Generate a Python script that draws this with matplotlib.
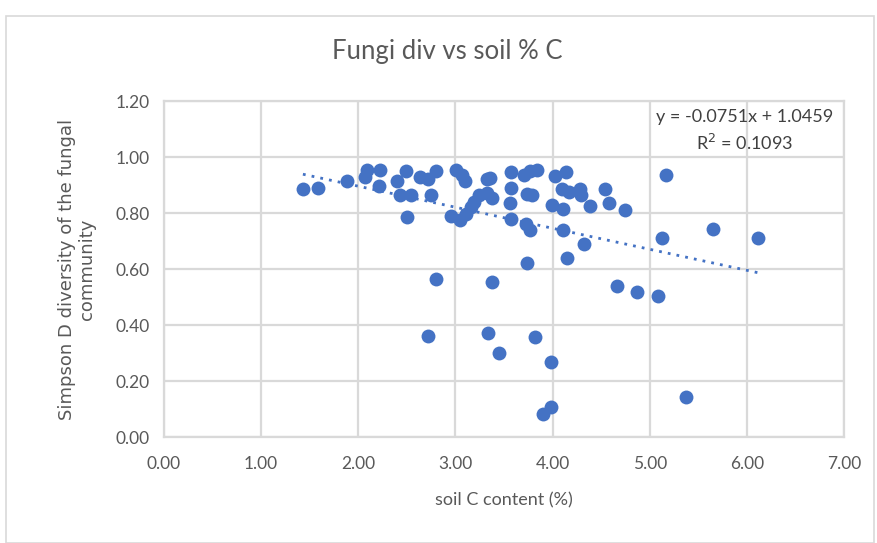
import numpy as np
import matplotlib.pyplot as plt
from matplotlib.patches import Rectangle

# soil C content (%) and Simpson D diversity
soil_c = [1.43, 1.59, 1.88, 2.09, 2.22, 2.07, 2.21, 2.40, 2.49, 2.43,
          2.54, 2.50, 2.64, 2.72, 2.80, 2.75, 2.80, 2.72, 3.01, 3.07,
          3.10, 2.95, 3.05, 3.11, 3.16, 3.19, 3.24, 3.33, 3.36, 3.32,
          3.38, 3.34, 3.38, 3.45, 3.57, 3.57, 3.56, 3.57, 3.71, 3.77,
          3.84, 3.74, 3.79, 3.73, 3.77, 3.74, 3.82, 3.98, 3.90, 3.98,
          4.03, 4.14, 4.10, 4.17, 4.28, 4.29, 3.99, 4.11, 4.39, 4.54,
          4.58, 4.75, 4.11, 4.32, 4.15, 4.66, 4.87, 5.09, 5.13, 5.17,
          5.65, 6.11, 5.37]
simpson_d = [0.886, 0.889, 0.915, 0.952, 0.952, 0.930, 0.896, 0.915, 0.950, 0.863,
             0.863, 0.787, 0.927, 0.921, 0.950, 0.863, 0.564, 0.361, 0.952, 0.934,
             0.915, 0.790, 0.776, 0.797, 0.822, 0.840, 0.865, 0.921, 0.925, 0.871,
             0.853, 0.371, 0.554, 0.299, 0.946, 0.890, 0.834, 0.778, 0.934, 0.950,
             0.955, 0.868, 0.863, 0.759, 0.741, 0.622, 0.358, 0.268, 0.081, 0.106,
             0.931, 0.946, 0.886, 0.875, 0.884, 0.865, 0.828, 0.815, 0.824, 0.884,
             0.837, 0.812, 0.738, 0.691, 0.641, 0.538, 0.517, 0.502, 0.712, 0.936,
             0.743, 0.710, 0.143]

# linear trendline as reported on the chart
slope, intercept, r2 = -0.0751, 1.0459, 0.1093

blue = '#4472C4'
grey_txt = '#595959'
grid_c = '#d9d9d9'

fig = plt.figure(figsize=(8.77, 5.43), dpi=100)
ax = fig.add_axes([164/877, 1-437/543, 680/877, 336/543])

ax.scatter(soil_c, simpson_d, s=100, color=blue, zorder=3, linewidths=0)

xs = np.array([min(soil_c), max(soil_c)])
ax.plot(xs, slope*xs + intercept, color=blue, lw=2, ls=(0, (1, 2.2)),
        zorder=2)

ax.set_xlim(0, 7)
ax.set_ylim(0, 1.2)
ax.set_xticks(np.arange(0, 7.01, 1))
ax.set_yticks(np.arange(0, 1.21, 0.2))
ax.xaxis.set_major_formatter(plt.FormatStrFormatter('%.2f'))
ax.yaxis.set_major_formatter(plt.FormatStrFormatter('%.2f'))
ax.tick_params(length=0, labelsize=12.5, labelcolor=grey_txt, pad=10)
ax.tick_params(axis='x', pad=14)
for lab in ax.get_xticklabels() + ax.get_yticklabels():
    lab.set_fontfamily('Lato')
ax.grid(True, color=grid_c, lw=1.6, zorder=0)
for sp in ax.spines.values():
    sp.set_color(grid_c)
    sp.set_linewidth(1.6)

fig.text(0.51, 0.905, 'Fungi div vs soil % C', ha='center', va='center',
         fontsize=18.5, color=grey_txt, family='Lato')
ax.set_xlabel('soil C content (%)', fontsize=13, color=grey_txt,
              family='Lato', labelpad=14)
ax.set_ylabel('Simpson D diversity of the fungal\ncommunity', fontsize=13,
              color=grey_txt, labelpad=14, linespacing=1.15)

fig.text(745/877, 1-117/543, 'y = %.4fx + %.4f' % (slope, intercept),
         ha='center', va='center', fontsize=13, color='#404040', family='Lato')
fig.text(745/877, 1-143/543, 'R$^2$ = %.4f' % r2,
         ha='center', va='center', fontsize=13, color='#404040', family='Lato')

fig.patches.append(Rectangle((6/877, 0.0), 868/877, 1-16/543, transform=fig.transFigure,
                             fill=False, edgecolor='#d9d9d9', lw=1.2))

fig.savefig('out.png', dpi=100)
